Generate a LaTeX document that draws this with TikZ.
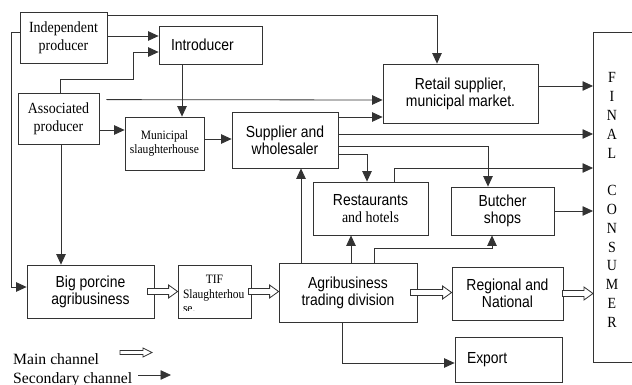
\documentclass[tikz,border=0pt]{standalone}
\usepackage{fontspec}
\setmainfont{Liberation Serif}
\newfontfamily\sansf{Liberation Sans}[FakeStretch=0.87]
\newfontfamily\serf{Liberation Serif}[FakeStretch=0.9]
\usetikzlibrary{arrows.meta,calc}

% hollow block arrow: start, end, half shaft, half head
\newcommand\mainarrow[4]{%
\draw[mainline] let \p1=(#1), \p2=(#2) in
  (\x1,\y1+#3) -- (\x2-9pt,\y1+#3) -- (\x2-9pt,\y1+#4) -- (\x2,\y1)
  -- (\x2-9pt,\y1-#4) -- (\x2-9pt,\y1-#3) -- (\x1,\y1-#3) -- cycle;}

\tikzset{
  box/.style={draw=black!80, line width=0.8pt, inner sep=0pt, align=center},
  boxline/.style={draw=black!80, line width=0.8pt},
  sans/.style={font=\sansf\fontsize{16}{17}\selectfont},
  serif/.style={font=\serf\fontsize{15.5}{18}\selectfont},
  small/.style={font=\serf\fontsize{12.8}{13.5}\selectfont},
  conn/.style={draw=black!80, line width=0.8pt, -{Triangle[length=10.5pt,width=9.5pt]}},
  mainline/.style={draw=black!80, line width=0.8pt, fill=white},
}

\begin{document}
\begin{tikzpicture}[x=1pt,y=-1pt]
\useasboundingbox (0,0) rectangle (632,385);

% boxes
\node[box,serif,minimum width=87pt,minimum height=51pt] (indep) at (63.5,37.5) {Independent\\producer};
\node[box,sans,minimum width=103pt,minimum height=38pt,text width=79pt,align=left,inner xsep=12pt] (intro) at (210.5,45) {Introducer};
\node[box,serif,minimum width=81pt,minimum height=51pt] (assoc) at (58.5,118.5) {Associated\\producer};
\node[box,small,minimum width=79pt,minimum height=53pt] (muni) at (164.5,143.5) {Municipal\\slaughterhouse};
\node[box,sans,minimum width=106pt,minimum height=56pt] (supp) at (285,140) {Supplier and\\wholesaler};
\node[box,sans,minimum width=155pt,minimum height=59pt] (retail) at (460.5,93.5) {Retail supplier,\\municipal market.};
\node[box,sans,minimum width=115pt,minimum height=53pt] (rest) at (370.5,208.5) {Restaurants\\{\serf\fontsize{15.5}{17}\selectfont and hotels}};
\node[box,sans,minimum width=103pt,minimum height=48pt] (butch) at (502.5,211) {Butcher\\shops};
\node[box,sans,minimum width=138pt,minimum height=59pt] (agri) at (348,292.5) {Agribusiness\\trading division};
\node[box,sans,minimum width=111pt,minimum height=53pt] (regn) at (507.5,293.5) {Regional and\\National};
\node[box,sans,minimum width=107pt,minimum height=45pt,text width=83pt,align=left,inner xsep=12pt] (export) at (508.5,359.5) {Export};
\node[box,sans,minimum width=127pt,minimum height=53pt] (big) at (90.5,291.5) {Big porcine\\agribusiness};
\node[box,minimum width=73pt,minimum height=53pt] (tif) at (214.5,291.5) {};
\begin{scope}
  \clip (178,266) rectangle (251,310.5);
  \node[anchor=north,inner sep=0pt,text width=63pt,align=left,font=\serf\fontsize{12.8}{14.6}\selectfont] (tiftext) at (214.5,275) {\hfil TIF\hfil\\Slaughterhou\\se.};
\end{scope}

% final consumer
\node[inner sep=0pt,minimum width=39pt,minimum height=330pt,anchor=north west] (fc) at (593,32) {};
\draw[boxline] (fc.north east) -- (fc.north west) -- (fc.south west) -- (fc.south east);
\node[font=\serf\fontsize{15.5}{18.8}\selectfont,align=center,inner sep=0pt] (fctext) at (612,200)
  {F\\I\\N\\A\\L\\[18.8pt]C\\O\\N\\S\\U\\M\\E\\R};

% secondary channels
\draw[conn] (indep.east |- 0,15) -| (retail.north -| 437,0);
\draw[conn] (indep.east |- 0,36) -- (intro.west |- 0,36);
\draw[conn] (indep.west |- 0,32) -- ++(-8,0) |- (big.west |- 0,287);
\draw[conn] (assoc.north -| 60,0) |- (133,79) |- (intro.west |- 0,52);
\draw[conn] ([shift={(7,7)}]assoc.north east) -- (retail.west |- 0,100);
\draw[conn] (assoc.east |- 0,130) -- (muni.west |- 0,130);
\draw[conn] (assoc.south -| 61,0) -- (big.north -| 61,0);
\draw[conn] (intro.south -| 182,0) -- (muni.north -| 182,0);
\draw[conn] (muni.east |- 0,139) -- (supp.west |- 0,139);
\draw[conn] (supp.east |- 0,117) -- (retail.west |- 0,117);
\draw[conn] (supp.east |- 0,134) -- (fc.west |- 0,134);
\draw[conn] (supp.east |- 0,146) -| (butch.north -| 488,0);
\draw[conn] (supp.east |- 0,154) -| (rest.north -| 367,0);
\draw[conn] (rest.north -| 394,0) |- (fc.west |- 0,168);
\draw[conn] (retail.east |- 0,86) -- (fc.west |- 0,86);
\draw[conn] (butch.east |- 0,211) -- (fc.west |- 0,211);
\draw[conn] (agri.north -| 301,0) -- (supp.south -| 301,0);
\draw[conn] (agri.north -| 351,0) -- (rest.south -| 351,0);
\draw[conn] (agri.north -| 374,0) -- (374,248) -| (butch.south -| 492,0);
\draw[conn] (agri.south -| 342,0) |- (export.west |- 0,363);

% main channels
\mainarrow{[xshift=-7pt]big.east}{tif.west}{3pt}{6.5pt}
\mainarrow{[xshift=-3pt]tif.east}{agri.west}{3pt}{6.5pt}
\mainarrow{[xshift=-7pt]agri.east}{regn.west}{3pt}{6.5pt}
\mainarrow{[xshift=-1pt]regn.east}{fc.west |- regn.east}{3pt}{6.5pt}

% legend
\node[anchor=base west,inner sep=0pt,font=\fontsize{15.7}{18}\selectfont] (lmt) at (13,364) {Main channel};
\node[anchor=base west,inner sep=0pt,font=\fontsize{15.7}{18}\selectfont] (lst) at (13,383) {Secondary channel};
\coordinate (lm1) at (120,352.5);
\coordinate (lm2) at (152,352.5);
\mainarrow{lm1}{lm2}{2pt}{4.5pt}
\coordinate (ls1) at (138,375);
\coordinate (ls2) at (171,375);
\draw[conn] (ls1) -- (ls2);
\end{tikzpicture}
\end{document}
